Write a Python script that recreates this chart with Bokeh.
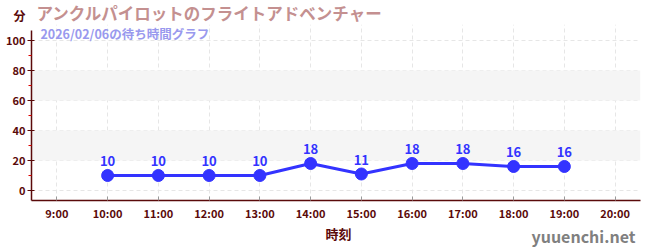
from bokeh.plotting import figure
from bokeh.layouts import column
from bokeh.models import (ColumnDataSource, Range1d, FixedTicker, BoxAnnotation, Label,
                          LabelSet, LinearAxis)
from bokeh.core.properties import value
from bokeh.embed import file_html
from bokeh.resources import INLINE

hours = [10, 11, 12, 13, 14, 15, 16, 17, 18, 19]
waits = [10, 10, 10, 10, 18, 11, 18, 18, 16, 16]
tick_hours = [9, 10, 11, 12, 13, 14, 15, 16, 17, 18, 19, 20]
tick_labels = ["9:00", "10:00", "11:00", "12:00", "13:00", "14:00", "15:00",
               "16:00", "17:00", "18:00", "19:00", "20:00"]
y_ticks = [0, 20, 40, 60, 80, 100]
y_minor = [10, 30, 50, 70, 90]
bands = [(20, 40), (60, 80)]
title_text = "アンクルパイロットのフライトアドベンチャー"
subtitle_text = "2026/02/06の待ち時間グラフ"
x_title = "時刻"
y_title = "分"
watermark = "yuuenchi.net"

FONT = "Noto Sans CJK JP"
AX = "#5a0a0a"
W = 650
LEFT, RIGHT = 31, 10
HEAD_H, MAIN_H, FOOT_H = 24, 199, 27
PX = 1.5                 # pixels per minute on the value axis
Y0_PX = 190 - HEAD_H     # pixel row of value 0 inside the main canvas


def blank(h):
    # frame-aligned strip whose data coordinates equal canvas pixels
    f = figure(width=W, height=h, output_backend="svg", toolbar_location=None,
               x_range=Range1d(LEFT, W - RIGHT), y_range=Range1d(h, 0),
               x_axis_location=None, y_axis_location=None,
               min_border_left=LEFT, min_border_right=RIGHT,
               min_border_top=0, min_border_bottom=0)
    f.grid.visible = False
    f.outline_line_color = None
    return f


# header: unit label and title
head = blank(HEAD_H)
unit_axis = LinearAxis(ticker=FixedTicker(ticks=[15.2]), major_label_overrides={15.2: y_title},
                       axis_line_color=None, major_tick_line_color=None,
                       minor_tick_line_color=None, major_tick_in=0, major_tick_out=0,
                       minor_tick_in=0, minor_tick_out=0, major_label_standoff=6,
                       major_label_text_color=AX, major_label_text_font=FONT,
                       major_label_text_font_style="bold", major_label_text_font_size="12px")
head.add_layout(unit_axis, "left")
head.text(x=[36], y=[12], text=[title_text], text_align="left", text_baseline="middle",
          text_color="#c49090", text_font=value(FONT), text_font_style="bold",
          text_font_size="16.5px")

# main chart
src = ColumnDataSource(dict(x=hours, y=waits, t=[str(v) for v in waits]))
y_lo, y_hi = -6.67, 106.67
p = figure(width=W, height=MAIN_H, output_backend="svg", toolbar_location=None,
           x_range=Range1d(8.5, 20.5), y_range=Range1d(y_lo, Y0_PX / PX),
           min_border_left=LEFT, min_border_right=RIGHT, min_border_top=0, min_border_bottom=20)
p.outline_line_color = None

for b, t in bands:
    p.add_layout(BoxAnnotation(bottom=b, top=t, fill_color="#f5f5f5", fill_alpha=1.0,
                               line_color=None, level="underlay"))

p.xaxis.ticker = FixedTicker(ticks=tick_hours)
p.xaxis.major_label_overrides = {h: l for h, l in zip(tick_hours, tick_labels)}
p.yaxis.ticker = FixedTicker(ticks=y_ticks, minor_ticks=y_minor)
p.yaxis.bounds = (y_lo, y_hi)

p.xgrid.ticker = FixedTicker(ticks=tick_hours)
for g in (p.xgrid, p.ygrid):
    g.grid_line_color = "#e6e6e6"
    g.grid_line_dash = "4 3"
    g.grid_line_width = 1

for ax in (p.xaxis, p.yaxis):
    ax.axis_line_color = AX
    ax.axis_line_width = 1.5
    ax.major_label_text_color = AX
    ax.major_label_text_font = FONT
    ax.major_label_text_font_style = "bold"
    ax.major_label_text_font_size = "11px"

p.xaxis.major_tick_in = 4
p.xaxis.major_tick_out = 0
p.xaxis.major_tick_line_color = "#999999"
p.xaxis.minor_tick_line_color = None
p.xaxis.major_label_standoff = 4

p.yaxis.major_tick_in = 3
p.yaxis.major_tick_out = 4
p.yaxis.major_tick_line_color = AX
p.yaxis.minor_tick_in = 0
p.yaxis.minor_tick_out = 3
p.yaxis.minor_tick_line_color = "#dd0000"
p.yaxis.major_label_standoff = 2

p.line("x", "y", source=src, line_color="#3333ff", line_width=3)
p.scatter("x", "y", source=src, size=12, fill_color="#3333ff", line_color="#3333ff")
p.add_layout(LabelSet(x="x", y="y", text="t", source=src, y_offset=9, text_align="center",
                      text_baseline="bottom", text_color="#3333ff", text_font=value(FONT),
                      text_font_style="bold", text_font_size="13px"))

p.add_layout(Label(x=8.5 + 9 / 50.9, y=(190 - 33.2) / PX, text=subtitle_text,
                   text_baseline="middle", text_color="#9999ee", text_font=FONT,
                   text_font_style="bold", text_font_size="12.5px"))

# footer: x-axis title and watermark
foot = blank(FOOT_H)
foot.text(x=[338], y=[9.5], text=[x_title], text_align="center", text_baseline="middle",
          text_color=AX, text_font=value(FONT), text_font_style="bold", text_font_size="13px")
foot.text(x=[635], y=[12], text=[watermark], text_align="right", text_baseline="middle",
          text_color="#808080", text_font=value(FONT), text_font_style="bold", text_font_size="16px")

layout = column(head, p, foot, spacing=0)
open("out.html", "w").write(file_html(layout, INLINE))
